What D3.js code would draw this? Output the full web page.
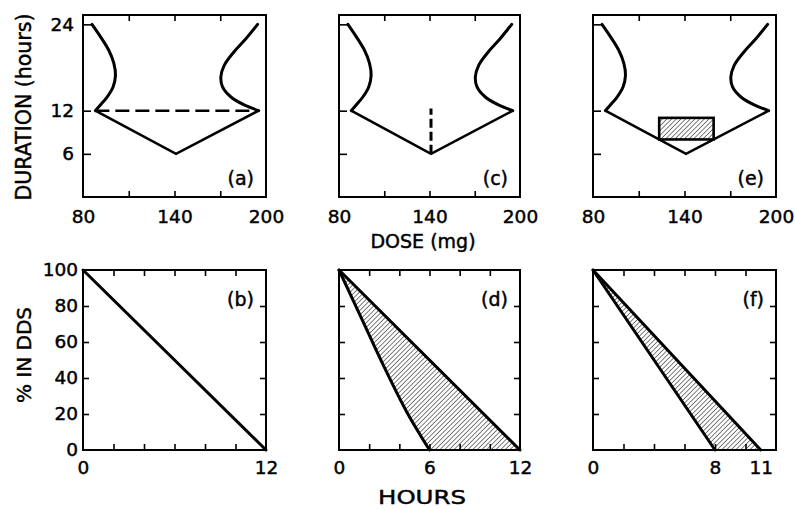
<!DOCTYPE html>
<html>
<head>
<meta charset="utf-8">
<script src="https://cdn.jsdelivr.net/npm/d3@7"></script>
<style>
  html, body { margin: 0; padding: 0; background: #fff; }
  svg { display: block; }
  text { font-family: "DejaVu Sans", sans-serif; fill: #000; stroke: #000; stroke-width: 0.45px; }
</style>
</head>
<body>
<svg id="chart" width="795" height="510"></svg>
<script>
// Top row: therapeutic dose/duration window; bottom row: % of drug left in the delivery system.
const doseTicks = [80, 110, 140, 170, 200];
const doseLabels = [80, 140, 200];
const durationTicks = [6, 12, 24];
const percentTicks = [0, 20, 40, 60, 80, 100];
const hourTicks = [0, 2, 4, 6, 8, 10, 12];
const hourLabelsB = [0, 12];
const hourLabelsD = [0, 6, 12];
const hourLabelsF = [0, 8, 11];

// Window boundaries (dose mg, duration h)
const leftBoundary = [[85.9, 24.0], [91.4, 22.3], [96.9, 20.4], [100.2, 18.6], [101.3, 16.9],
                      [99.7, 15.3], [95.8, 13.9], [91.4, 12.8], [88.1, 12.0]];
const rightBoundary = [[194.5, 24.0], [186.8, 22.0], [179.1, 20.2], [172.6, 18.3], [170.4, 16.7],
                       [171.5, 15.3], [177.0, 13.9], [185.7, 12.8], [195.2, 12.0]];
const minimumDuration = [[88.1, 12], [141, 6], [195.2, 12]];

// Feasible designs in each scenario
const fixedDuration = [[88.1, 12], [195.2, 12]];      // (a)
const fixedDose = [[141, 6], [141, 12.3]];            // (c)
const windowDose = [123.4, 159.1];                    // (e)
const windowHours = [8, 11];                          // (e)

// Release profiles (hours, % in DDS)
const releaseB = [[0, 100], [12, 0]];
const releaseDFast = [[0, 100], [1.5, 73], [3, 46], [4.5, 21], [6, 0]];
const releaseDSlow = [[0, 100], [12, 0]];
const releaseFFast = [[0, 100], [8, 0]];
const releaseFSlow = [[0, 100], [11, 0]];

const columns = [{ x: 83, w: 183 }, { x: 339, w: 181 }, { x: 593, w: 183 }];
const topRow = { y: 15, h: 182 };
const bottomRow = { y: 270, h: 180 };
const labelSize = 18.5;

const svg = d3.select("#chart");
svg.append("rect").attr("width", 795).attr("height", 510).attr("fill", "#fff");

const defs = svg.append("defs");
const hatch = defs.append("pattern")
  .attr("id", "hatch").attr("patternUnits", "userSpaceOnUse")
  .attr("width", 3.3).attr("height", 3.3)
  .attr("patternTransform", "rotate(45)");
hatch.append("line").attr("x1", 0).attr("y1", 0).attr("x2", 0).attr("y2", 3.3)
  .attr("stroke", "#000").attr("stroke-width", 1);

function styleAxis(g) {
  g.select(".domain").remove();
  g.selectAll(".tick line").attr("stroke", "#000").attr("stroke-width", 1.6);
  g.selectAll("text").attr("font-size", labelSize).attr("font-family", "DejaVu Sans, sans-serif")
    .attr("fill", "#000");
}

function frame(g, w, h) {
  g.append("rect").attr("x", 0).attr("y", 0).attr("width", w).attr("height", h)
    .attr("fill", "none").attr("stroke", "#000").attr("stroke-width", 2);
}

function tag(g, w, y, label) {
  g.append("text").attr("x", w - 12).attr("y", y).attr("text-anchor", "end")
    .attr("font-size", 19).text(label);
}

// ---------- top row ----------
function topPanel(ci, label, showYLabels) {
  const c = columns[ci];
  const g = svg.append("g").attr("transform", `translate(${c.x},${topRow.y})`);
  const x = d3.scaleLinear().domain([80, 200]).range([0, c.w]);
  const y = d3.scaleLinear().domain([0, 25.3]).range([topRow.h, 0]);

  // inward ticks
  g.append("g").attr("transform", `translate(0,${topRow.h})`)
    .call(d3.axisBottom(x).tickValues(doseTicks.slice(1, -1)).tickSizeInner(-6).tickSizeOuter(0).tickFormat(""))
    .call(styleAxis);
  g.append("g")
    .call(d3.axisTop(x).tickValues(doseTicks.slice(1, -1)).tickSizeInner(-6).tickSizeOuter(0).tickFormat(""))
    .call(styleAxis);
  g.append("g")
    .call(d3.axisLeft(y).tickValues(durationTicks).tickSizeInner(-8).tickSizeOuter(0).tickFormat(""))
    .call(styleAxis);

  // labels
  g.append("g").attr("transform", `translate(0,${topRow.h})`)
    .call(d3.axisBottom(x).tickValues(doseLabels).tickSize(0).tickPadding(13))
    .call(styleAxis);
  if (showYLabels) {
    g.append("g")
      .call(d3.axisLeft(y).tickValues(durationTicks).tickSize(0).tickPadding(9))
      .call(styleAxis);
  }

  frame(g, c.w, topRow.h);

  const line = d3.line().x(d => x(d[0])).y(d => y(d[1]));
  const smooth = d3.line().x(d => x(d[0])).y(d => y(d[1])).curve(d3.curveCatmullRom.alpha(0.5));
  g.append("path").attr("d", smooth(leftBoundary)).attr("fill", "none")
    .attr("stroke", "#000").attr("stroke-width", 3).attr("stroke-linecap", "round");
  g.append("path").attr("d", smooth(rightBoundary)).attr("fill", "none")
    .attr("stroke", "#000").attr("stroke-width", 3).attr("stroke-linecap", "round");
  g.append("path").attr("d", line(minimumDuration)).attr("fill", "none")
    .attr("stroke", "#000").attr("stroke-width", 2.6).attr("stroke-linejoin", "miter");

  tag(g, c.w, topRow.h - 12, label);
  return { g, x, y, line };
}

const pa = topPanel(0, "(a)", true);
pa.g.append("path").attr("d", pa.line(fixedDuration)).attr("fill", "none")
  .attr("stroke", "#000").attr("stroke-width", 2.6).attr("stroke-dasharray", "14,6");

const pc = topPanel(1, "(c)", false);
pc.g.append("path").attr("d", pc.line(fixedDose)).attr("fill", "none")
  .attr("stroke", "#000").attr("stroke-width", 3).attr("stroke-dasharray", "9,4");

const pe = topPanel(2, "(e)", false);
pe.g.append("rect")
  .attr("x", pe.x(windowDose[0])).attr("y", pe.y(windowHours[1]))
  .attr("width", pe.x(windowDose[1]) - pe.x(windowDose[0]))
  .attr("height", pe.y(windowHours[0]) - pe.y(windowHours[1]))
  .attr("fill", "url(#hatch)").attr("stroke", "#000").attr("stroke-width", 2.6);

// ---------- bottom row ----------
function bottomPanel(ci, label, hourLabels, showYLabels) {
  const c = columns[ci];
  const g = svg.append("g").attr("transform", `translate(${c.x},${bottomRow.y})`);
  const x = d3.scaleLinear().domain([0, 12]).range([0, c.w]);
  const y = d3.scaleLinear().domain([0, 100]).range([bottomRow.h, 0]);
  const inner = hourTicks.slice(1, -1);
  const innerP = percentTicks.slice(1, -1);

  g.append("g").attr("transform", `translate(0,${bottomRow.h})`)
    .call(d3.axisBottom(x).tickValues(inner).tickSizeInner(-6).tickSizeOuter(0).tickFormat(""))
    .call(styleAxis);
  g.append("g")
    .call(d3.axisTop(x).tickValues(inner).tickSizeInner(-6).tickSizeOuter(0).tickFormat(""))
    .call(styleAxis);
  g.append("g")
    .call(d3.axisLeft(y).tickValues(innerP).tickSizeInner(-6).tickSizeOuter(0).tickFormat(""))
    .call(styleAxis);
  g.append("g").attr("transform", `translate(${c.w},0)`)
    .call(d3.axisRight(y).tickValues(innerP).tickSizeInner(-6).tickSizeOuter(0).tickFormat(""))
    .call(styleAxis);

  g.append("g").attr("transform", `translate(0,${bottomRow.h})`)
    .call(d3.axisBottom(x).tickValues(hourLabels).tickSize(0).tickPadding(11))
    .call(styleAxis);
  if (showYLabels) {
    g.append("g")
      .call(d3.axisLeft(y).tickValues(percentTicks).tickSize(0).tickPadding(5))
      .call(styleAxis);
  }

  frame(g, c.w, bottomRow.h);
  tag(g, c.w, 36, label);
  const line = d3.line().x(d => x(d[0])).y(d => y(d[1]));
  return { g, x, y, line };
}

function releaseLine(p, data, curve) {
  const gen = d3.line().x(d => p.x(d[0])).y(d => p.y(d[1])).curve(curve || d3.curveLinear);
  p.g.append("path").attr("d", gen(data)).attr("fill", "none")
    .attr("stroke", "#000").attr("stroke-width", 3).attr("stroke-linejoin", "round").attr("stroke-linecap", "round");
}

function band(p, fast, slow, curve) {
  const pts = slow.concat(fast.slice().reverse());
  const gen = d3.line().x(d => p.x(d[0])).y(d => p.y(d[1])).curve(curve || d3.curveLinear);
  p.g.append("path").attr("d", gen(pts) + "Z").attr("fill", "url(#hatch)").attr("stroke", "none");
}

const pb = bottomPanel(0, "(b)", hourLabelsB, true);
releaseLine(pb, releaseB);

const pd = bottomPanel(1, "(d)", hourLabelsD, false);
band(pd, releaseDFast, releaseDSlow);
releaseLine(pd, releaseDFast, d3.curveCatmullRom.alpha(0.5));
releaseLine(pd, releaseDSlow);

const pf = bottomPanel(2, "(f)", hourLabelsF, false);
band(pf, releaseFFast, releaseFSlow);
releaseLine(pf, releaseFFast);
releaseLine(pf, releaseFSlow);

// ---------- axis titles ----------
svg.append("text").attr("transform", "translate(31,107) rotate(-90)")
  .attr("text-anchor", "middle").attr("font-size", 21)
  .attr("textLength", 187).attr("lengthAdjust", "spacingAndGlyphs")
  .text("DURATION (hours)");
svg.append("text").attr("transform", "translate(31,355) rotate(-90)")
  .attr("text-anchor", "middle").attr("font-size", 20)
  .text("% IN DDS");
svg.append("text").attr("x", 423).attr("y", 248)
  .attr("text-anchor", "middle").attr("font-size", 19)
  .text("DOSE (mg)");
svg.append("text").attr("x", 422).attr("y", 504)
  .attr("text-anchor", "middle").attr("font-size", 20)
  .attr("textLength", 88).attr("lengthAdjust", "spacingAndGlyphs")
  .text("HOURS");
</script>
</body>
</html>
